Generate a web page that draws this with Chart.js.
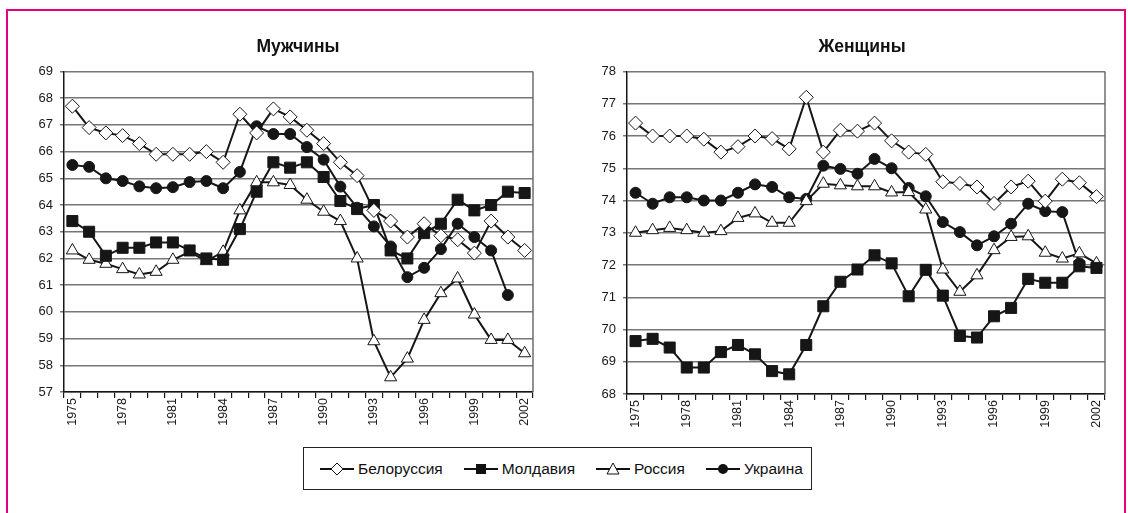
<!DOCTYPE html>
<html>
<head>
<meta charset="utf-8">
<script src="https://cdn.jsdelivr.net/npm/chart.js@4.4.0/dist/chart.umd.min.js"></script>
<style>
  body { margin: 0; width: 1128px; height: 513px; overflow: hidden; background: #fff; font-family: "Liberation Sans", Arial, sans-serif; }
  .frame { position: absolute; left: 6px; top: 9px; width: 1120px; height: 600px; border: 2.5px solid #e4007d; box-sizing: border-box; }
  #boxMen { position: absolute; left: 0; top: 0; width: 596px; height: 430px; }
  #boxWomen { position: absolute; left: 596px; top: 0; width: 532px; height: 430px; }
  .legend { position: absolute; left: 303px; top: 447px; width: 509px; height: 43px; border: 1.5px solid #222; box-sizing: border-box; display: flex; align-items: center; padding-left: 16px; font-size: 15.5px; color: #111; }
  .item { display: flex; align-items: center; margin-right: 21px; }
  .item svg { margin-right: 2px; }
</style>
</head>
<body>
<div class="frame"></div>
<div id="boxMen"><canvas id="menChart"></canvas></div>
<div id="boxWomen"><canvas id="womenChart"></canvas></div>
<div class="legend">
  <div class="item"><svg width="36" height="16"><line x1="0" y1="8" x2="34" y2="8" stroke="#111" stroke-width="2"/><polygon points="17,2 23,8 17,14 11,8" fill="#fff" stroke="#111" stroke-width="1"/></svg>Белоруссия</div>
  <div class="item"><svg width="36" height="16"><line x1="0" y1="8" x2="34" y2="8" stroke="#111" stroke-width="2"/><rect x="12" y="3" width="10" height="10" fill="#111"/></svg>Молдавия</div>
  <div class="item"><svg width="36" height="16"><line x1="0" y1="8" x2="34" y2="8" stroke="#111" stroke-width="2"/><polygon points="17,2 23,13 11,13" fill="#fff" stroke="#111" stroke-width="1"/></svg>Россия</div>
  <div class="item"><svg width="36" height="16"><line x1="0" y1="8" x2="34" y2="8" stroke="#111" stroke-width="2"/><circle cx="17" cy="8" r="5" fill="#111"/></svg>Украина</div>
</div>
<script>
// годы
const years = [1975, 1976, 1977, 1978, 1979, 1980, 1981, 1982, 1983, 1984, 1985, 1986, 1987, 1988,
  1989, 1990, 1991, 1992, 1993, 1994, 1995, 1996, 1997, 1998, 1999, 2000, 2001, 2002];
const countries = ['Белоруссия', 'Молдавия', 'Россия', 'Украина'];

// Мужчины
const menBel = [67.7, 66.9, 66.7, 66.6, 66.3, 65.9, 65.9, 65.9, 66.0, 65.6, 67.4, 66.7, 67.6, 67.3,
  66.8, 66.3, 65.6, 65.1, 63.8, 63.4, 62.8, 63.3, 62.85, 62.7, 62.2, 63.4, 62.8, 62.3];
const menMol = [63.4, 63.0, 62.1, 62.4, 62.4, 62.6, 62.6, 62.3, 62.0, 61.95, 63.1, 64.5, 65.6, 65.4,
  65.6, 65.05, 64.15, 63.85, 64.0, 62.3, 62.0, 62.95, 63.3, 64.2, 63.8, 64.0, 64.5, 64.45];
const menRus = [62.3, 61.95, 61.8, 61.6, 61.4, 61.5, 61.95, 62.25, 61.9, 62.25, 63.8, 64.85, 64.85, 64.75,
  64.2, 63.75, 63.4, 62.0, 58.9, 57.55, 58.25, 59.7, 60.7, 61.25, 59.9, 58.95, 58.95, 58.45];
const menUkr = [65.5, 65.43, 65.0, 64.9, 64.7, 64.63, 64.67, 64.86, 64.9, 64.63, 65.24, 66.95, 66.66, 66.66,
  66.17, 65.7, 64.69, 63.9, 63.2, 62.45, 61.3, 61.65, 62.35, 63.3, 62.8, 62.3, 60.63, null];

// Женщины
const womenBel = [76.4, 76.0, 76.0, 76.0, 75.9, 75.5, 75.67, 76.0, 75.92, 75.6, 77.2, 75.5, 76.18, 76.15,
  76.4, 75.85, 75.5, 75.43, 74.58, 74.53, 74.42, 73.91, 74.42, 74.6, 73.98, 74.66, 74.55, 74.12];
const womenMol = [69.64, 69.71, 69.44, 68.82, 68.82, 69.3, 69.52, 69.23, 68.71, 68.61, 69.52, 70.72, 71.48, 71.86,
  72.3, 72.05, 71.03, 71.85, 71.05, 69.8, 69.75, 70.41, 70.67, 71.57, 71.45, 71.45, 71.96, 71.91];
const womenRus = [73.0, 73.08, 73.15, 73.08, 73.0, 73.05, 73.46, 73.6, 73.31, 73.31, 73.98, 74.52, 74.47, 74.44,
  74.44, 74.25, 74.26, 73.72, 71.86, 71.17, 71.68, 72.46, 72.87, 72.89, 72.38, 72.2, 72.36, 72.05];
const womenUkr = [74.24, 73.9, 74.1, 74.1, 74.0, 74.0, 74.24, 74.5, 74.42, 74.1, 74.05, 75.08, 74.98, 74.83,
  75.29, 75.0, 74.39, 74.13, 73.33, 73.02, 72.61, 72.89, 73.28, 73.9, 73.67, 73.64, 72.05, null];

const FONT = '"Liberation Sans", Arial, sans-serif';
const INK = '#161616';

// стиль маркеров для каждой страны
const markers = [
  { pointStyle: 'rectRot', pointRadius: 7, pointBackgroundColor: '#fff' },
  { pointStyle: 'rect', pointRadius: 7.8, pointBackgroundColor: INK },
  { pointStyle: 'triangle', pointRadius: 7, pointBackgroundColor: '#fff' },
  { pointStyle: 'circle', pointRadius: 5.5, pointBackgroundColor: INK }
];

function makeDatasets(series) {
  return series.map((data, i) => Object.assign({
    label: countries[i],
    data: data,
    borderColor: INK,
    borderWidth: 2,
    pointBorderColor: INK,
    pointBorderWidth: 1,
    tension: 0
  }, markers[i]));
}

// правая рамка области графика
const frameRight = {
  id: 'frameRight',
  beforeDatasetsDraw(chart) {
    const { ctx, chartArea: a } = chart;
    ctx.save();
    ctx.strokeStyle = '#6e6e6e';
    ctx.lineWidth = 1.5;
    ctx.beginPath();
    ctx.moveTo(a.right, a.top);
    ctx.lineTo(a.right, a.bottom);
    ctx.stroke();
    ctx.restore();
  }
};

function makeConfig(title, series, yMin, yMax, yWidth, xHeight, rightSpace) {
  return {
    type: 'line',
    data: { labels: years, datasets: makeDatasets(series) },
    options: {
      responsive: true,
      maintainAspectRatio: false,
      animation: false,
      layout: { padding: 0 },
      plugins: {
        legend: { display: false },
        tooltip: { enabled: false },
        title: {
          display: true,
          text: title,
          color: '#111',
          font: { family: FONT, size: 17.5, weight: 'bold' },
          padding: { top: 37, bottom: 13.5 }
        }
      },
      scales: {
        x: {
          offset: true,
          afterFit: (s) => { s.height = xHeight; },
          grid: { offset: true, drawOnChartArea: false, color: INK, tickLength: 6, lineWidth: 1.2 },
          border: { color: INK, width: 1.5 },
          ticks: {
            autoSkip: false,
            minRotation: 90,
            maxRotation: 90,
            padding: 0,
            color: '#1a1a1a',
            font: { family: FONT, size: 12.5 },
            callback: (v, i) => (i % 3 === 0 ? years[i] : '')
          }
        },
        y: {
          min: yMin,
          max: yMax,
          afterFit: (s) => { s.width = yWidth; },
          grid: { color: '#767676', lineWidth: 1.5, tickLength: 4 },
          border: { color: INK, width: 1.5 },
          ticks: {
            stepSize: 1,
            padding: 7,
            color: '#1a1a1a',
            font: { family: FONT, size: 13 }
          }
        },
        // пустое место справа, чтобы заголовок стоял по центру
        yPad: {
          position: 'right',
          min: yMin,
          max: yMax,
          afterFit: (s) => { s.width = rightSpace; },
          grid: { display: false },
          border: { display: false },
          ticks: { display: false }
        }
      }
    },
    plugins: [frameRight]
  };
}

new Chart(document.getElementById('menChart'),
  makeConfig('Мужчины', [menBel, menMol, menRus, menUkr], 57, 69, 64, 38, 63));
new Chart(document.getElementById('womenChart'),
  makeConfig('Женщины', [womenBel, womenMol, womenRus, womenUkr], 68, 78, 31, 36, 23));
</script>
</body>
</html>
